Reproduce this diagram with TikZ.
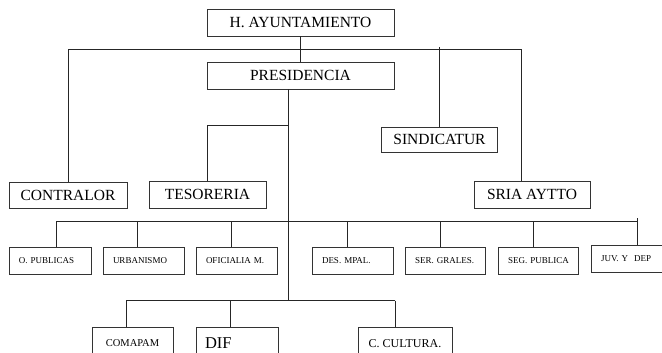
\documentclass[tikz,border=0pt]{standalone}
\usepackage{fontspec}
\setmainfont{Liberation Serif}
\frenchspacing
\begin{document}
\begin{tikzpicture}[x=1pt,y=-1pt,
  line/.style={draw=black!85, line width=0.9pt},
  box/.style={draw=black!80, line width=0.9pt, fill=white, inner sep=0pt, minimum height=27pt},
  bigbox/.style={box, font=\fontsize{15.5}{16}\selectfont},
  smallbox/.style={box, font=\fontsize{9}{10}\selectfont, text width=61pt, inner xsep=10pt, align=left},
  lowbox/.style={box, minimum height=32pt}
]
\useasboundingbox (0,0) rectangle (662,353);
\clip (0,0) rectangle (662,353);

% top level
\node[bigbox, minimum width=187pt] (ayto) at (300.5,22.5) {H. AYUNTAMIENTO};
\node[bigbox, minimum width=187pt] (pres) at (300.5,75.5) {PRESIDENCIA};
\node[bigbox, minimum width=118pt, minimum height=26pt] (contralor) at (68,195) {CONTRALOR};
\node[bigbox, minimum width=117pt, minimum height=26.5pt] (teso) at (207.5,194.8) {TESORERIA};
\node[bigbox, minimum width=116pt, minimum height=25pt] (sind) at (439.5,139.5) {SINDICATUR};
\node[bigbox, minimum width=116pt] (sria) at (532,194.5) {SRIA AYTTO};

% second row
\node[smallbox, text width=62pt] (opub) at (50,260.5) {\mbox{O. PUBLICAS}};
\node[smallbox] (urb) at (143.5,260.5) {\mbox{URBANISMO}};
\node[smallbox] (ofic) at (236.5,260.5) {\mbox{OFICIALIA M.}};
\node[smallbox] (des) at (352.5,260.5) {\mbox{DES. MPAL.}};
\node[smallbox, text width=60pt] (ser) at (445,260.5) {\mbox{SER. GRALES.}};
\node[smallbox, text width=60pt] (seg) at (538,260.5) {\mbox{SEG. PUBLICA}};
\node[smallbox] (juv) at (631.5,258.5) {\mbox{JUV. Y\hspace{3pt} DEP}};

% third row
\node[lowbox, minimum width=81pt, font=\fontsize{10.5}{11}\selectfont] (coma) at (132.5,343.5) {COMAPAM};
\node[lowbox, text width=64pt, inner xsep=9pt, align=left, font=\fontsize{16.5}{17}\selectfont] (dif) at (237,343.5) {DIF};
\node[lowbox, minimum width=94pt, font=\fontsize{12}{13}\selectfont] (cult) at (405,343.5) {C. CULTURA.};

% junction coordinates
\coordinate (tbusl) at (68,49.5);
\coordinate (tbusr) at (521,49.5);
\coordinate (sindtop) at (439.5,47);
\coordinate (trunktop) at ([xshift=-12pt]pres.south);
\coordinate (tesoj) at (288.5,125.5);
\coordinate (mbus) at (288.5,221.5);
\coordinate (mbl) at (56,221.5);
\coordinate (mbr) at (637.5,221.5);
\coordinate (juvtop) at (637.5,218);
\coordinate (bbus) at (288.5,300.5);
\coordinate (bbl) at (126,300.5);
\coordinate (bbr) at (395,300.5);

% connectors
\draw[line] (ayto.south) -- (pres.north);
\draw[line] (tbusl) -- (tbusr);
\draw[line] (tbusl) -- (contralor.north);
\draw[line] (tbusr) -- ([xshift=-11pt]sria.north);
\draw[line] (sindtop) -- (sind.north);
\draw[line] (trunktop) -- (bbus);
\draw[line] (tesoj) -| (teso.north);

\draw[line] (mbl) -- (mbr);
\draw[line] (mbl) -- ([xshift=6pt]opub.north);
\draw[line] ([xshift=-6.5pt]urb.north) -- ([xshift=-6.5pt]urb.north |- mbus);
\draw[line] ([xshift=-5.5pt]ofic.north) -- ([xshift=-5.5pt]ofic.north |- mbus);
\draw[line] ([xshift=-5.5pt]des.north) -- ([xshift=-5.5pt]des.north |- mbus);
\draw[line] ([xshift=-5pt]ser.north) -- ([xshift=-5pt]ser.north |- mbus);
\draw[line] ([xshift=-5pt]seg.north) -- ([xshift=-5pt]seg.north |- mbus);
\draw[line] (juvtop) -- ([xshift=6pt]juv.north);

\draw[line] (bbl) -- (bbr);
\draw[line] (bbl) -- ([xshift=-6.5pt]coma.north);
\draw[line] ([xshift=-7pt]dif.north) -- ([xshift=-7pt]dif.north |- bbus);
\draw[line] (bbr) -- ([xshift=-10pt]cult.north);
\end{tikzpicture}
\end{document}
